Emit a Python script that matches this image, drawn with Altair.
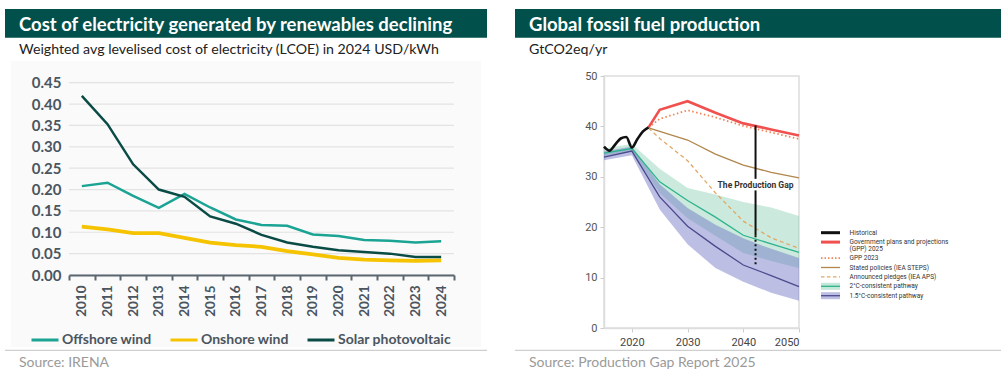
import altair as alt
import pandas as pd

# ================= Left panel: LCOE (IRENA) =================
lcoe_years = [str(y) for y in range(2010, 2025)]
offshore_wind = [0.208, 0.216, 0.185, 0.157, 0.190, 0.158, 0.130, 0.117, 0.115, 0.095, 0.091, 0.082, 0.080, 0.076, 0.079]
onshore_wind = [0.113, 0.107, 0.098, 0.098, 0.087, 0.076, 0.070, 0.066, 0.056, 0.048, 0.040, 0.036, 0.034, 0.033, 0.034]
solar_pv = [0.419, 0.353, 0.259, 0.200, 0.183, 0.137, 0.120, 0.094, 0.076, 0.066, 0.058, 0.054, 0.050, 0.042, 0.042]
lcoe_names = ["Offshore wind", "Onshore wind", "Solar photovoltaic"]
lcoe_ticks = [0.0, 0.05, 0.10, 0.15, 0.20, 0.25, 0.30, 0.35, 0.40, 0.45]
left_title = "Cost of electricity generated by renewables declining"
left_subtitle = "Weighted avg levelised cost of electricity (LCOE) in 2024 USD/kWh"
left_source = "Source: IRENA"

# ================= Right panel: fossil fuel production =================
hist_years = [2015, 2016, 2017, 2018, 2019, 2020, 2021, 2022, 2023]
historical = [36.0, 35.2, 36.4, 37.6, 37.9, 35.8, 37.5, 39.0, 39.8]
proj_years = [2023, 2025, 2030, 2035, 2040, 2045, 2050]
gpp_2025 = [39.8, 43.3, 45.0, 42.7, 40.6, 39.4, 38.2]
gpp_2023 = [39.8, 41.5, 43.2, 41.8, 40.1, 38.8, 37.5]
stated_policies = [39.7, 39.0, 37.3, 34.5, 32.3, 30.9, 29.8]
announced_pledges = [39.7, 37.6, 33.2, 26.8, 21.2, 17.9, 15.8]
path_years = [2015, 2020, 2025, 2030, 2035, 2040, 2045, 2050]
two_c_line = [34.7, 35.6, 29.0, 25.3, 22.0, 18.4, 16.7, 15.0]
two_c_high = [35.6, 36.5, 31.6, 27.8, 26.5, 25.0, 23.9, 22.2]
two_c_low = [34.0, 35.0, 26.8, 21.8, 18.3, 14.9, 13.3, 11.9]
one5_line = [33.9, 35.1, 26.0, 20.2, 16.2, 12.5, 10.4, 8.2]
one5_high = [35.0, 36.0, 28.5, 23.8, 20.5, 17.8, 15.7, 13.9]
one5_low = [33.3, 34.3, 23.5, 16.6, 11.9, 9.2, 7.0, 5.4]
gap_year = 2042.2
gap_solid_top = [40.2, 27.3]
gap_solid_bottom = [29.6, 18.4]
gap_dotted = [18.4, 12.5]
gap_label = "The Production Gap"
gap_label_value = 28.4
fossil_x_ticks = [2020, 2030, 2040, 2050]
fossil_y_ticks = [0, 10, 20, 30, 40, 50]
right_title = "Global fossil fuel production"
right_subtitle = "GtCO2eq/yr"
right_source = "Source: Production Gap Report 2025"
legend_labels = [
    ["Historical"],
    ["Government plans and projections", "(GPP) 2025"],
    ["GPP 2023"],
    ["Stated policies (IEA STEPS)"],
    ["Announced pledges (IEA APS)"],
    ["2\u00b0C-consistent pathway"],
    ["1.5\u00b0C-consistent pathway"],
]

# ================= styles =================
FONT = "Lato"
BANNER = "#02504b"
AXIS_TXT = "#4a5560"
C_OFF, C_ON, C_SOLAR = "#1ba393", "#f6c300", "#0a4b46"
C_HIST, C_GPP25, C_GPP23 = "#111111", "#f0504e", "#f08458"
C_STEPS, C_APS = "#b0864c", "#e3a664"
C_2C_LINE, C_2C_FILL = "#2db38c", "#52b98f"
C_15_LINE, C_15_FILL = "#4b4a8c", "#6b6fc4"

LW, LH = 385, 199
RW, RH = 195, 252
ONE = alt.Data(values=[{}])


def deco_rect(x, x2, y, y2, color):
    return alt.Chart(ONE).mark_rect(color=color).encode(
        x=alt.value(x), x2=alt.value(x2), y=alt.value(y), y2=alt.value(y2))


def deco_rule(x, x2, y, color, width=1.0, dash=None):
    kw = dict(color=color, strokeWidth=width)
    if dash:
        kw["strokeDash"] = dash
    return alt.Chart(ONE).mark_rule(**kw).encode(
        x=alt.value(x), x2=alt.value(x2), y=alt.value(y))


def deco_text(x, y, text, size, color, weight="normal", font=FONT):
    return alt.Chart(ONE).mark_text(
        text=text, align="left", baseline="alphabetic", fontSize=size,
        color=color, fontWeight=weight, font=font).encode(x=alt.value(x), y=alt.value(y))


# ---------------- left chart ----------------
rows = []
for name, vals in zip(lcoe_names, [offshore_wind, onshore_wind, solar_pv]):
    for yr, v in zip(lcoe_years, vals):
        rows.append({"year": yr, "value": v, "series": name})
lcoe_df = pd.DataFrame(rows)

XL = dict(title=None, bandPosition=0.5,
          scale=alt.Scale(type="band", paddingInner=0, paddingOuter=0),
          axis=alt.Axis(labelAngle=-90, tickBand="extent", labelFont=FONT,
                        labelFontSize=13.5, labelFontWeight="bold", labelColor=AXIS_TXT,
                        domainColor="#5c6670", domainWidth=2, tickColor="#5c6670",
                        tickWidth=2, tickSize=5, labelPadding=5, grid=False, zindex=1))
YL = dict(title=None, scale=alt.Scale(domain=[0, 0.4657], nice=False, zero=True),
          axis=alt.Axis(values=lcoe_ticks, format=".2f", labelFont=FONT, labelFontSize=15,
                        labelFontWeight="bold", labelColor=AXIS_TXT, domain=False,
                        ticks=False, grid=False, labelPadding=8, zindex=1))

grid_left = alt.Chart(pd.DataFrame({"value": lcoe_ticks})).mark_rule(
    color="#e3e3e3", strokeWidth=1.2).encode(
    y=alt.Y("value:Q", **YL), x=alt.value(0), x2=alt.value(LW))


def lcoe_line(name, width):
    return alt.Chart(lcoe_df).transform_filter(
        alt.datum.series == name).mark_line(strokeWidth=width).encode(
        x=alt.X("year:O", **XL),
        y=alt.Y("value:Q", **YL),
        color=alt.Color("series:N",
                        scale=alt.Scale(domain=lcoe_names, range=[C_OFF, C_ON, C_SOLAR]),
                        legend=alt.Legend(title=None, orient="none", direction="horizontal",
                                          legendX=-39, legendY=249, symbolType="stroke",
                                          symbolSize=729, symbolStrokeWidth=3,
                                          labelFont=FONT, labelFontSize=14,
                                          labelFontWeight="bold", labelColor=AXIS_TXT,
                                          labelOffset=2, columnPadding=12, padding=0)),
    )


left = alt.layer(
    deco_rect(-58, 412, -15, 271, "#fafafa"),
    deco_rect(-64, 418, -67, -38.3, BANNER),
    deco_text(-50, -45.5, left_title, 18.5, "white", "bold"),
    deco_text(-50, -21.7, left_subtitle, 14.2, "#222222"),
    grid_left,
    lcoe_line("Onshore wind", 3.8),
    lcoe_line("Offshore wind", 2.5),
    lcoe_line("Solar photovoltaic", 2.5),
    deco_rule(-64, 418, 274.3, "#cfcfcf", 1.2),
    deco_text(-50, 291, left_source, 14, "#9a9a9a"),
).properties(width=LW, height=LH)

# ---------------- right chart ----------------
XR = dict(title=None, scale=alt.Scale(domain=[2015, 2050], nice=False, zero=False),
          axis=alt.Axis(values=fossil_x_ticks, format="d", labelFont="Roboto",
                        labelFontSize=11, labelColor="#444444", tickColor="#cccccc",
                        tickSize=4, domainColor="#dddddd", domainWidth=1.5, labelPadding=4,
                        grid=False))
YR = dict(title=None, scale=alt.Scale(domain=[0, 50], nice=False),
          axis=alt.Axis(values=fossil_y_ticks, labelFont="Roboto", labelFontSize=11,
                        labelColor="#555555", tickColor="#cccccc", tickSize=4,
                        domainColor="#dddddd", domainWidth=1.5, labelPadding=3, grid=False))


def series_df(years, vals):
    return pd.DataFrame({"year": years, "value": vals})


def rline(years, vals, color, width, dash=None, interp="linear"):
    kw = dict(color=color, strokeWidth=width, interpolate=interp)
    if dash:
        kw["strokeDash"] = dash
    return alt.Chart(series_df(years, vals)).mark_line(**kw).encode(
        x=alt.X("year:Q", **XR), y=alt.Y("value:Q", **YR))


def rband(years, lo, hi, color, opacity):
    df = pd.DataFrame({"year": years, "low": lo, "high": hi})
    return alt.Chart(df).mark_area(color=color, opacity=opacity).encode(
        x=alt.X("year:Q", **XR), y=alt.Y("high:Q", **YR), y2="low:Q")


gap_df = pd.DataFrame({"year": [gap_year, gap_year], "top": gap_solid_top,
                       "bottom": gap_solid_bottom})
gap_solid = alt.Chart(gap_df).mark_rule(color="#111111", strokeWidth=2).encode(
    x=alt.X("year:Q", **XR), y=alt.Y("top:Q", **YR), y2="bottom:Q")
gap_dot_df = pd.DataFrame({"year": [gap_year], "top": [gap_dotted[0]], "bottom": [gap_dotted[1]]})
gap_dot = alt.Chart(gap_dot_df).mark_rule(color="#111111", strokeWidth=2,
                                          strokeDash=[2, 2.5]).encode(
    x=alt.X("year:Q", **XR), y=alt.Y("top:Q", **YR), y2="bottom:Q")
gap_text = alt.Chart(pd.DataFrame({"year": [gap_year], "value": [gap_label_value],
                                   "label": [gap_label]})).mark_text(
    font="Roboto", fontSize=8.5, fontWeight="bold", color="#333333",
    align="center", baseline="middle").encode(
    x=alt.X("year:Q", **XR), y=alt.Y("value:Q", **YR), text="label:N")

# legend (manual, built from legend_labels)
leg_layers = []
sym_x0, sym_x1, lab_x = 217, 236, 245.5
leg_styles = [
    dict(kind="line", color=C_HIST, width=3),
    dict(kind="line", color=C_GPP25, width=3),
    dict(kind="line", color=C_GPP23, width=1.6, dash=[1.5, 2]),
    dict(kind="line", color=C_STEPS, width=1.3),
    dict(kind="line", color=C_APS, width=1.3, dash=[3.5, 2.5]),
    dict(kind="band", color=C_2C_LINE, fill=C_2C_FILL, op=0.35),
    dict(kind="band", color=C_15_LINE, fill=C_15_FILL, op=0.45),
]
row_y = 156.7
for lab, st in zip(legend_labels, leg_styles):
    if st["kind"] == "band":
        leg_layers.append(alt.Chart(ONE).mark_rect(color=st["fill"], opacity=st["op"]).encode(
            x=alt.value(sym_x0), x2=alt.value(sym_x1), y=alt.value(row_y - 3.5),
            y2=alt.value(row_y + 3.5)))
        leg_layers.append(deco_rule(sym_x0, sym_x1, row_y, st["color"], 1.3))
    else:
        leg_layers.append(deco_rule(sym_x0, sym_x1, row_y, st["color"], st["width"],
                                    st.get("dash")))
    txt = lab if len(lab) > 1 else lab[0]
    leg_layers.append(alt.Chart(ONE).mark_text(
        text=txt, align="left", baseline="middle", fontSize=6.5, color="#333333",
        font="Roboto", lineHeight=7).encode(x=alt.value(lab_x), y=alt.value(row_y)))
    row_y += 9.4 + 6.6 * (len(lab) - 1)

right = alt.layer(
    deco_rect(-89, 397, -67, -38.3, BANNER),
    deco_text(-75, -45.5, right_title, 18.5, "white", "bold"),
    deco_text(-75, -21.7, right_subtitle, 14.2, "#222222"),
    rband(path_years, two_c_low, two_c_high, C_2C_FILL, 0.3),
    rband(path_years, one5_low, one5_high, C_15_FILL, 0.45),
    rline(path_years, two_c_line, C_2C_LINE, 1.3),
    rline(path_years, one5_line, C_15_LINE, 1.3),
    rline(proj_years, stated_policies, C_STEPS, 1.3),
    rline(proj_years, announced_pledges, C_APS, 1.3, dash=[4, 3]),
    rline(proj_years, gpp_2023, C_GPP23, 1.8, dash=[1.5, 2.5]),
    rline(proj_years, gpp_2025, C_GPP25, 2.6),
    rline(hist_years, historical, C_HIST, 2.6, interp="monotone"),
    gap_solid, gap_dot, gap_text,
    *leg_layers,
    deco_rule(-89, 397, 274.3, "#cfcfcf", 1.2),
    deco_text(-75, 291, right_source, 14, "#9a9a9a"),
).properties(width=RW, height=RH,
             view=alt.ViewBackground(stroke="#dddddd", strokeWidth=1.5, strokeOpacity=1))

chart = alt.hconcat(left, right, spacing=150, bounds="flush").properties(
    padding={"left": 4, "top": 8, "right": 0, "bottom": 2}
).configure_view(strokeOpacity=0)

chart.save("out.html", embed_options={"renderer": "svg", "actions": False})
